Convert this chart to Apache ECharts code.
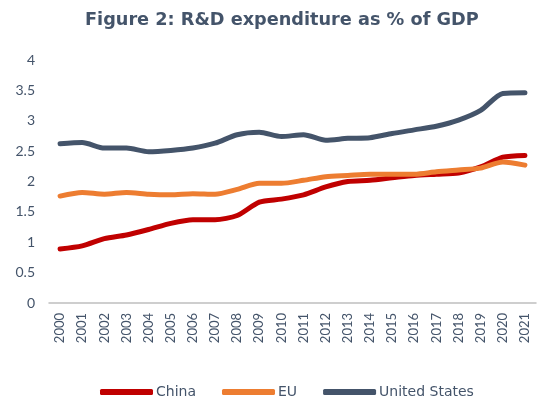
<!DOCTYPE html>
<html><head><meta charset="utf-8">
<script src="https://cdn.jsdelivr.net/npm/echarts@6/dist/echarts.min.js"></script>
<style>html,body{margin:0;padding:0;background:#fff}#c{width:537px;height:406px}</style>
</head><body><div id="c"></div>
<script>
const years = ['2000','2001','2002','2003','2004','2005','2006','2007','2008','2009','2010','2011','2012','2013','2014','2015','2016','2017','2018','2019','2020','2021'];
const china = [0.89,0.94,1.06,1.12,1.21,1.31,1.37,1.37,1.44,1.66,1.71,1.78,1.91,2.00,2.02,2.06,2.10,2.12,2.14,2.24,2.40,2.43];
const eu = [1.76,1.82,1.79,1.82,1.79,1.78,1.80,1.79,1.87,1.97,1.97,2.02,2.08,2.10,2.12,2.12,2.12,2.16,2.19,2.22,2.32,2.27];
const us = [2.62,2.64,2.55,2.55,2.49,2.51,2.55,2.63,2.77,2.81,2.74,2.77,2.68,2.71,2.72,2.79,2.85,2.91,3.01,3.17,3.45,3.46];
const yTicks = [0,0.5,1,1.5,2,2.5,3,3.5,4];
const txt = '#44546a';
const font = 'Lato, "Noto Sans", sans-serif';
const wide = '"DejaVu Sans", sans-serif';
const chart = echarts.init(document.getElementById('c'));
const mk = (name, data, color) => ({
  name, type: 'line', data, smooth: 0.25, showSymbol: false, symbol: 'none',
  lineStyle: { width: 5, color, cap: 'round', join: 'round' }, itemStyle: { color }
});
chart.setOption({
  animation: false,
  title: { text: 'Figure 2: R&D expenditure as % of GDP', left: 80, top: 6,
    textStyle: { color: txt, fontSize: 17.7, fontWeight: 'bold', fontFamily: wide } },
  grid: { left: 49, right: 1, top: 60, bottom: 103 },
  xAxis: { type: 'category', data: years, boundaryGap: true,
    axisLine: { lineStyle: { color: '#bfbfbf', width: 1.5 } }, axisTick: { show: false },
    axisLabel: { rotate: 90, color: txt, fontSize: 13, fontFamily: font, margin: 10, interval: 0 } },
  yAxis: { type: 'value', min: yTicks[0], max: yTicks[yTicks.length-1], interval: 0.5,
    axisLine: { show: false }, axisTick: { show: false }, splitLine: { show: false },
    axisLabel: { color: txt, fontSize: 14, fontFamily: font, margin: 14 } },
  legend: { bottom: 2, left: 95, icon: 'roundRect', itemWidth: 53, itemHeight: 6, itemGap: 26,
    textStyle: { color: txt, fontSize: 14, fontFamily: wide, padding: [0,0,0,-2] } },
  series: [ mk('China', china, '#c00000'), mk('EU', eu, '#ed7d31'), mk('United States', us, '#44546a') ]
});
</script></body></html>
